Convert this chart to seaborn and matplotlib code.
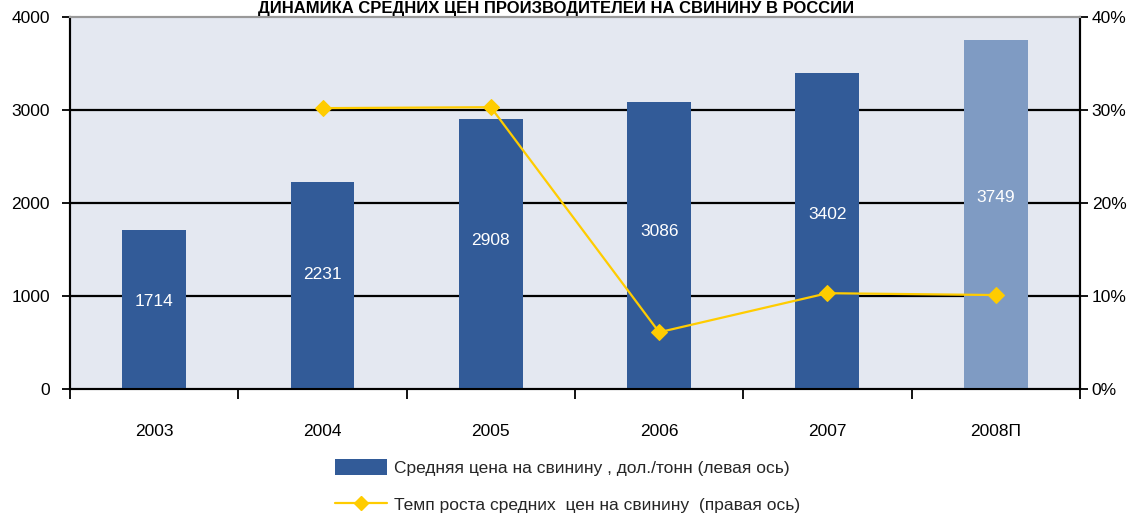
import numpy as np
import pandas as pd
import seaborn as sns
import matplotlib.pyplot as plt
from matplotlib.patches import Patch
from matplotlib.lines import Line2D
from matplotlib.ticker import FuncFormatter

# data
years = ['2003', '2004', '2005', '2006', '2007', '2008П']
price = [1714, 2231, 2908, 3086, 3402, 3749]
growth = [np.nan, 30.2, 30.3, 6.1, 10.3, 10.1]

bar_colors = ['#325b98'] * 5 + ['#7f9bc3']
line_color = '#ffcc00'
bg = '#e4e8f1'

sns.set_theme(style='white')
plt.rcParams['font.family'] = ['Liberation Sans', 'DejaVu Sans']

df = pd.DataFrame({'year': years, 'price': price, 'growth': growth, 'pos': np.arange(len(years))})

fig = plt.figure(figsize=(11.35, 5.15), dpi=100)
ax = fig.add_axes([0.0617, 0.2447, 0.8898, 0.7223])
ax.set_facecolor(bg)

sns.barplot(data=df, x='year', y='price', hue='year', palette=bar_colors,
            width=0.38, legend=False, saturation=1, linewidth=0, edgecolor='none',
            ax=ax, zorder=3)
ax.set_ylim(0, 4000)
ax.set_xlim(-0.5, len(years) - 0.5)
ax.set_yticks([0, 1000, 2000, 3000, 4000])
for v in [1000, 2000, 3000]:
    ax.axhline(v, color='black', lw=1.6, zorder=2)

# value labels inside bars
for i, v in enumerate(price):
    ax.text(i, v * 0.55, str(v), ha='center', va='center', color='white', fontsize=12.5, zorder=5)

ax.set_xlabel('')
ax.set_ylabel('')
ax.set_xticks(np.arange(len(years)))
ax.set_xticklabels(years)
ax.set_xticks(np.arange(-0.5, len(years)), minor=True)

# right axis with growth rate
ax2 = ax.twinx()
sns.lineplot(data=df, x='pos', y='growth', color=line_color, lw=1.6, marker='D',
             markersize=8, markeredgecolor=line_color, ax=ax2, zorder=6)
ax2.set_ylim(0, 40)
ax2.set_yticks([0, 10, 20, 30, 40])
ax2.yaxis.set_major_formatter(FuncFormatter(lambda v, p: f'{v:.0f}%'))
ax2.set_ylabel('')

# ticks (set after twinx so nothing resets them)
ax.tick_params(axis='x', which='major', bottom=False, pad=19, labelsize=12.5, colors='black')
ax.tick_params(axis='x', which='minor', bottom=True, length=7, width=1.3, direction='out',
               color='black')
ax.yaxis.set_tick_params(which='major', left=True, right=False, length=11, width=1.3,
                         direction='inout', pad=9, labelsize=12.5, color='black',
                         labelcolor='black')
ax2.yaxis.set_tick_params(which='major', right=True, left=False, length=11, width=1.3,
                          direction='inout', pad=3, labelsize=12.5, color='black',
                          labelcolor='black')

for a in (ax, ax2):
    for s in ['left', 'right', 'bottom']:
        a.spines[s].set_color('black')
        a.spines[s].set_linewidth(1.5)
    a.spines['top'].set_color('#999999')
    a.spines['top'].set_linewidth(1.5)

fig.text(0.49, 1 - 7.5 / 515, 'ДИНАМИКА СРЕДНИХ ЦЕН ПРОИЗВОДИТЕЛЕЙ НА СВИНИНУ В РОССИИ',
         ha='center', va='center', fontsize=12, fontweight='bold', color='black')

handles = [Patch(facecolor=bar_colors[0], edgecolor='none'),
           Line2D([], [], color=line_color, lw=1.6, marker='D', markersize=7)]
labels = ['Средняя цена на свинину , дол./тонн (левая ось)',
          'Темп роста средних  цен на свинину  (правая ось)']
fig.legend(handles, labels, loc='center', bbox_to_anchor=(0.5, 0.056), frameon=False,
           fontsize=12.5, handlelength=3.0, handleheight=1.0, handletextpad=0.4,
           labelspacing=1.15, ncol=1)

fig.savefig('out.png', dpi=100, facecolor='white')
